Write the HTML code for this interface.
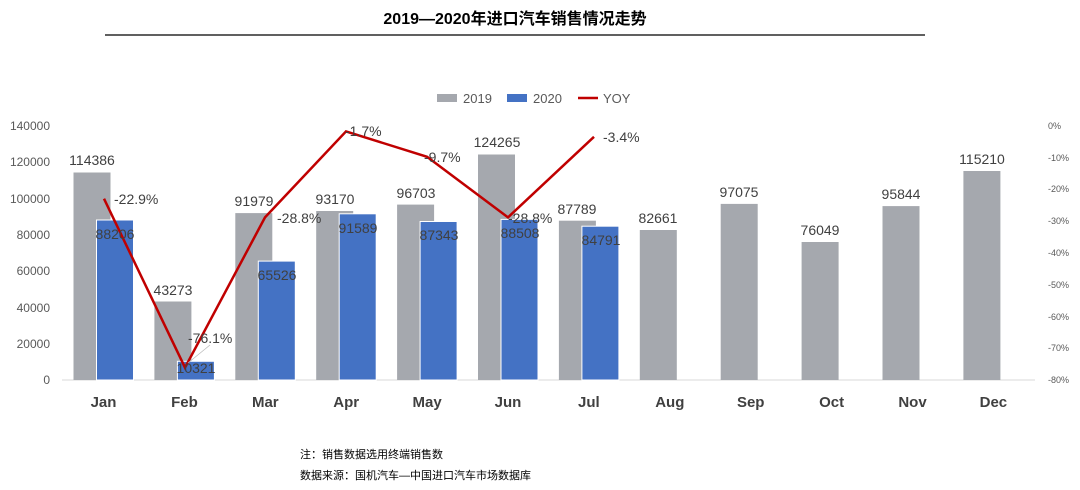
<!DOCTYPE html><html><head><meta charset="utf-8"><style>body{margin:0;background:#fff}svg{display:block}text{font-family:"Liberation Sans","Noto Sans CJK SC",sans-serif}</style></head><body>
<svg width="1080" height="490" xmlns="http://www.w3.org/2000/svg">
<text x="515" y="24" text-anchor="middle" font-size="16" font-weight="bold" fill="#000">2019—2020年进口汽车销售情况走势</text>
<line x1="105" y1="35" x2="925" y2="35" stroke="#000" stroke-width="1.2"/>
<rect x="437" y="94" width="20" height="8" fill="#a5a8ae"/><text x="463" y="103" font-size="13" fill="#595959">2019</text>
<rect x="507" y="94" width="20" height="8" fill="#4472c4"/><text x="533" y="103" font-size="13" fill="#595959">2020</text>
<line x1="578" y1="98" x2="598" y2="98" stroke="#c00000" stroke-width="2.5"/><text x="603" y="103" font-size="13" fill="#595959">YOY</text>
<g font-size="12" fill="#595959" text-anchor="end">
<text x="50" y="130">140000</text><text x="50" y="166">120000</text><text x="50" y="203">100000</text><text x="50" y="239">80000</text><text x="50" y="275">60000</text><text x="50" y="312">40000</text><text x="50" y="348">20000</text><text x="50" y="384">0</text></g>
<g font-size="9" fill="#595959">
<text x="1048" y="129">0%</text><text x="1048" y="161">-10%</text><text x="1048" y="192">-20%</text><text x="1048" y="224">-30%</text><text x="1048" y="256">-40%</text><text x="1048" y="288">-50%</text><text x="1048" y="320">-60%</text><text x="1048" y="351">-70%</text><text x="1048" y="383">-80%</text></g>
<line x1="62" y1="380" x2="1035" y2="380" stroke="#d9d9d9"/>
<g fill="#a5a8ae">
<rect x="73.5" y="172.5" width="37" height="207.5"/><rect x="154.4" y="301.5" width="37" height="78.5"/><rect x="235.3" y="213.1" width="37" height="166.9"/><rect x="316.2" y="211" width="37" height="169"/><rect x="397.1" y="204.6" width="37" height="175.4"/><rect x="478" y="154.5" width="37" height="225.5"/><rect x="558.9" y="220.7" width="37" height="159.3"/><rect x="639.8" y="230" width="37" height="150"/><rect x="720.7" y="203.9" width="37" height="176.1"/><rect x="801.6" y="242" width="37" height="138"/><rect x="882.5" y="206.1" width="37" height="173.9"/><rect x="963.4" y="171" width="37" height="209"/></g>
<g fill="#4472c4" stroke="#fff" stroke-width="1">
<rect x="96.5" y="220" width="37" height="160"/><rect x="177.4" y="361.3" width="37" height="18.7"/><rect x="258.3" y="261.1" width="37" height="118.9"/><rect x="339.2" y="213.8" width="37" height="166.2"/><rect x="420.1" y="221.5" width="37" height="158.5"/><rect x="501" y="219.4" width="37" height="160.6"/><rect x="581.9" y="226.2" width="37" height="153.8"/></g>
<polyline points="104,198.7 185,367.6 265,217.4 346,131.4 427,156.8 508,217.4 594,136.8" fill="none" stroke="#c00000" stroke-width="2.5"/>
<line x1="188" y1="363" x2="210" y2="345" stroke="#bbb" stroke-width="0.8"/>
<g font-size="14" fill="#404040" text-anchor="middle">
<text x="92" y="165">114386</text><text x="173" y="295">43273</text><text x="254" y="206">91979</text><text x="335" y="204">93170</text><text x="416" y="198">96703</text><text x="497" y="147">124265</text><text x="577" y="214">87789</text><text x="658" y="223">82661</text><text x="739" y="197">97075</text><text x="820" y="235">76049</text><text x="901" y="199">95844</text><text x="982" y="164">115210</text>
<text x="115" y="239">88206</text><text x="196" y="373">10321</text><text x="277" y="280">65526</text><text x="358" y="233">91589</text><text x="439" y="240">87343</text><text x="520" y="238">88508</text><text x="601" y="245">84791</text></g>
<g font-size="14" fill="#404040">
<text x="114" y="204">-22.9%</text><text x="188" y="343">-76.1%</text><text x="277" y="223">-28.8%</text><text x="345" y="136">-1.7%</text><text x="424" y="162">-9.7%</text><text x="508" y="223">-28.8%</text><text x="603" y="142">-3.4%</text></g>
<g font-size="15" font-weight="bold" fill="#404040" text-anchor="middle">
<text x="103.5" y="407">Jan</text><text x="184.4" y="407">Feb</text><text x="265.3" y="407">Mar</text><text x="346.2" y="407">Apr</text><text x="427.1" y="407">May</text><text x="508" y="407">Jun</text><text x="588.9" y="407">Jul</text><text x="669.8" y="407">Aug</text><text x="750.7" y="407">Sep</text><text x="831.6" y="407">Oct</text><text x="912.5" y="407">Nov</text><text x="993.4" y="407">Dec</text></g>
<text x="300" y="458" font-size="11" fill="#000">注：销售数据选用终端销售数</text>
<text x="300" y="479" font-size="11" fill="#000">数据来源：国机汽车—中国进口汽车市场数据库</text>
</svg></body></html>
